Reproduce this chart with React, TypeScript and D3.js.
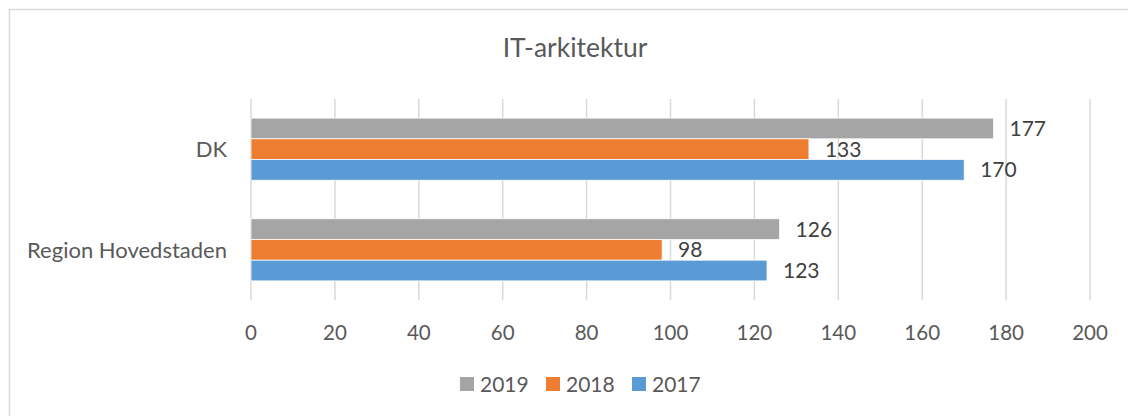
import { useMemo } from "react";
import * as d3 from "d3";

const WIDTH = 1128;
const HEIGHT = 416;
const MARGIN = { top: 99, right: 38, bottom: 116, left: 251 };

const TITLE = "IT-arkitektur";
const categories = ["DK", "Region Hovedstaden"];
const seriesNames = ["2019", "2018", "2017"];
const values2019 = [177, 126];
const values2018 = [133, 98];
const values2017 = [170, 123];
const xTicks = [0, 20, 40, 60, 80, 100, 120, 140, 160, 180, 200];

const COLORS = { "2019": "#A5A5A5", "2018": "#ED7D31", "2017": "#5B9BD5" };
const TEXT = "#595959";
const GRID = "#D9D9D9";
const FONT = "Lato, 'Open Sans', sans-serif";

const App = () => {
  const boundsWidth = WIDTH - MARGIN.left - MARGIN.right;
  const boundsHeight = HEIGHT - MARGIN.top - MARGIN.bottom;

  const series = [values2019, values2018, values2017];

  const xScale = useMemo(() => d3.scaleLinear().domain([0, 200]).range([0, boundsWidth]), [boundsWidth]);
  const yScale = useMemo(
    () => d3.scaleBand().domain(categories).range([0, boundsHeight]).paddingInner(0.383).paddingOuter(0.19),
    [boundsHeight]
  );
  const subScale = useMemo(
    () => d3.scaleBand().domain(seriesNames).range([0, yScale.bandwidth()]),
    [yScale]
  );

  const bars = categories.flatMap((cat, ci) =>
    seriesNames.map((s, si) => {
      const v = series[si][ci];
      const y = (yScale(cat) ?? 0) + (subScale(s) ?? 0);
      return (
        <g key={`${cat}-${s}`}>
          <rect
            x={0}
            y={y}
            width={xScale(v)}
            height={subScale.bandwidth()}
            fill={COLORS[s]}
            stroke="#fff"
            strokeWidth={0.75}
          />
          <text
            x={xScale(v) + 16}
            y={y + subScale.bandwidth() / 2}
            dy="0.36em"
            fontSize={21}
            fill="#404040"
          >
            {v}
          </text>
        </g>
      );
    })
  );

  const legendStart = 460;
  const legendSteps = [0, 86, 172];

  return (
    <svg
      width={WIDTH}
      height={HEIGHT}
      style={{ position: "absolute", left: 0, top: 0, background: "#fff", fontFamily: FONT }}
    >
      <rect x={9.5} y={9.5} width={1125} height={415} fill="#fff" stroke={GRID} strokeWidth={1.5} />
      <text x={575} y={57} textAnchor="middle" fontSize={26.5} fill={TEXT}>
        {TITLE}
      </text>
      <g transform={`translate(${MARGIN.left},${MARGIN.top})`}>
        {xTicks.map((t) => (
          <g key={t}>
            <line x1={xScale(t)} x2={xScale(t)} y1={0} y2={boundsHeight} stroke={GRID} strokeWidth={1.5} />
            <text x={xScale(t)} y={boundsHeight + 33} dy="0.36em" textAnchor="middle" fontSize={20.5} fill={TEXT}>
              {t}
            </text>
          </g>
        ))}
        {bars}
        {categories.map((c) => (
          <text
            key={c}
            x={-24}
            y={(yScale(c) ?? 0) + yScale.bandwidth() / 2}
            dy="0.36em"
            textAnchor="end"
            fontSize={22}
            fill={TEXT}
          >
            {c}
          </text>
        ))}
      </g>
      <g transform={`translate(0, 384)`}>
        {seriesNames.map((s, i) => (
          <g key={s} transform={`translate(${legendStart + legendSteps[i]},0)`}>
            <rect x={0} y={-7} width={14} height={14} fill={COLORS[s]} />
            <text x={20} y={0} dy="0.36em" fontSize={21} fill={TEXT}>
              {s}
            </text>
          </g>
        ))}
      </g>
    </svg>
  );
};

export default App;
